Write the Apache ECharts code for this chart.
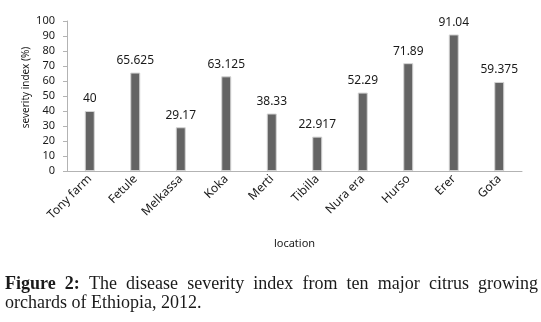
<!DOCTYPE html>
<html>
<head>
<meta charset="utf-8">
<script src="https://cdn.jsdelivr.net/npm/echarts@6/dist/echarts.min.js"></script>
<style>
  html, body { margin: 0; padding: 0; background: #fff; }
  #chart { width: 541px; height: 322px; }
</style>
</head>
<body>
<div id="chart"></div>
<script>
const locations = ['Tony farm', 'Fetule', 'Melkassa', 'Koka', 'Merti', 'Tibilla', 'Nura era', 'Hurso', 'Erer', 'Gota']
const severity = [40, 65.625, 29.17, 63.125, 38.33, 22.917, 52.29, 71.89, 91.04, 59.375]
const severityLabels = ['40', '65.625', '29.17', '63.125', '38.33', '22.917', '52.29', '71.89', '91.04', '59.375']
const captionLine1 = 'Figure 2: The disease severity index from ten major citrus growing'
const captionLine2 = 'orchards of Ethiopia, 2012.'

const chart = echarts.init(document.getElementById('chart'))

// justify the first caption line between the page margins
const serif = '"Liberation Serif", "DejaVu Serif", serif'
const ctx = document.createElement('canvas').getContext('2d')
const words = captionLine1.split(' ')
const wordFonts = words.map((w, i) => (i < 2 ? 'bold ' : '') + '18px ' + serif)
const widths = words.map((w, i) => { ctx.font = wordFonts[i]; return ctx.measureText(w).width })
const lineLeft = 5, lineRight = 538
const gap = (lineRight - lineLeft - widths.reduce((a, b) => a + b, 0)) / (words.length - 1)
const captionWords = []
let x = lineLeft
words.forEach((w, i) => {
  captionWords.push({
    type: 'text', left: Math.round(x * 10) / 10, top: 275,
    style: { text: w, font: wordFonts[i], fill: '#1a1a1a' }
  })
  x += widths[i] + gap
})

const option = {
  animation: false,
  grid: { left: 67, right: 19, top: 21, bottom: 151 },
  xAxis: {
    type: 'category',
    data: locations,
    name: 'location',
    nameLocation: 'middle',
    nameGap: 67,
    nameMoveOverlap: false,
    nameTextStyle: { fontFamily: 'Noto Sans', fontSize: 11, color: '#1a1a1a' },
    axisLine: { lineStyle: { color: '#b3b3b3' } },
    axisTick: { show: false },
    axisLabel: {
      interval: 0, rotate: 45, margin: 6,
      fontFamily: 'Noto Sans', fontSize: 12, color: '#1a1a1a'
    }
  },
  yAxis: {
    type: 'value',
    min: 0, max: 100, interval: 10,
    name: 'severity index (%)',
    nameLocation: 'middle',
    nameGap: 36,
    nameMoveOverlap: false,
    nameTextStyle: { fontFamily: 'Noto Sans', fontSize: 10, color: '#1a1a1a', padding: [0, 0, 0, 17] },
    axisLine: { show: true, lineStyle: { color: '#b3b3b3' } },
    axisTick: { show: true, length: 4, lineStyle: { color: '#b3b3b3' } },
    axisLabel: { margin: 12, fontFamily: 'Noto Sans', fontSize: 11, color: '#1a1a1a' },
    splitLine: { show: false }
  },
  series: [
    {
      type: 'bar',
      data: severity,
      barWidth: 10,
      itemStyle: { color: '#646464', borderColor: '#d4d4d4', borderWidth: 1 },
      label: {
        show: true,
        position: 'top',
        distance: 6,
        formatter: p => severityLabels[p.dataIndex],
        fontFamily: 'Noto Sans', fontSize: 12, color: '#1a1a1a'
      }
    }
  ],
  graphic: captionWords.concat([
    {
      type: 'text', left: lineLeft, top: 294,
      style: { text: captionLine2, font: '18px ' + serif, fill: '#1a1a1a' }
    }
  ])
}

chart.setOption(option)
window.addEventListener('resize', () => chart.resize())
</script>
</body>
</html>
